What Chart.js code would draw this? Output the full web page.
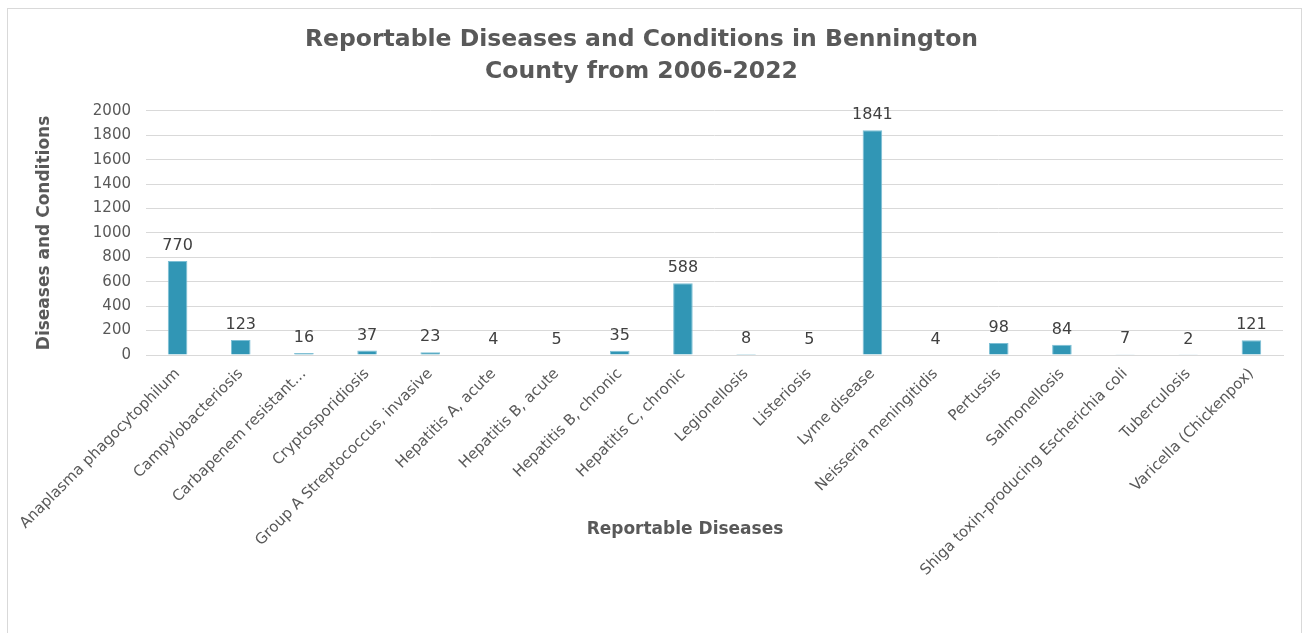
<!DOCTYPE html>
<html>
<head>
<meta charset="utf-8">
<script src="https://cdn.jsdelivr.net/npm/chart.js@4"></script>
<style>
  html, body { margin: 0; padding: 0; background: #fff; overflow: hidden; }
  #wrap { position: absolute; left: 0; top: 0; width: 1305px; height: 633px; }
  #frame { position: absolute; left: 7px; top: 8px; width: 1295px; height: 640px; border: 1px solid #d9d9d9; box-sizing: border-box; pointer-events: none; }
</style>
</head>
<body>
<div id="wrap"><canvas id="chart" width="1305" height="633"></canvas></div>
<div id="frame"></div>
<script>
// datos
const diseases = [
  'Anaplasma phagocytophilum', 'Campylobacteriosis', 'Carbapenem resistant…',
  'Cryptosporidiosis', 'Group A Streptococcus, invasive', 'Hepatitis A, acute',
  'Hepatitis B, acute', 'Hepatitis B, chronic', 'Hepatitis C, chronic',
  'Legionellosis', 'Listeriosis', 'Lyme disease', 'Neisseria meningitidis',
  'Pertussis', 'Salmonellosis', 'Shiga toxin-producing Escherichia coli',
  'Tuberculosis', 'Varicella (Chickenpox)'
];
const counts = [770, 123, 16, 37, 23, 4, 5, 35, 588, 8, 5, 1841, 4, 98, 84, 7, 2, 121];
const titleLines = ['Reportable Diseases and Conditions in Bennington', 'County from 2006-2022'];
const xTitle = 'Reportable Diseases';
const yTitle = 'Diseases and Conditions';

const GREY = '#595959';

// etiquetas de valor encima de cada barra
const valueLabels = {
  id: 'valueLabels',
  afterDatasetsDraw(chart) {
    const ctx = chart.ctx;
    const meta = chart.getDatasetMeta(0);
    ctx.save();
    ctx.font = '16px "DejaVu Sans"';
    ctx.fillStyle = '#404040';
    ctx.textAlign = 'center';
    ctx.textBaseline = 'bottom';
    meta.data.forEach((bar, i) => {
      ctx.fillText(String(counts[i]), bar.x, bar.y - 7);
    });
    ctx.restore();
  }
};

// título del eje X (Excel lo pone entre las etiquetas giradas)
const xAxisTitle = {
  id: 'xAxisTitle',
  afterDraw(chart) {
    const ctx = chart.ctx;
    ctx.save();
    ctx.font = 'bold 17px "DejaVu Sans"';
    ctx.fillStyle = GREY;
    ctx.textAlign = 'center';
    ctx.textBaseline = 'middle';
    ctx.fillText(xTitle, 685, chart.chartArea.bottom + 175);
    ctx.restore();
  }
};

new Chart(document.getElementById('chart'), {
  type: 'bar',
  data: {
    labels: diseases,
    datasets: [{
      data: counts,
      backgroundColor: '#3196b5',
      borderColor: '#7dbfd5',
      borderWidth: 1,
      barPercentage: 0.31,
      categoryPercentage: 1
    }]
  },
  options: {
    responsive: false,
    animation: false,
    layout: { padding: { left: 0, right: 22, top: 0, bottom: 0 } },
    plugins: {
      legend: { display: false },
      tooltip: { enabled: false },
      title: {
        display: true,
        text: titleLines,
        color: GREY,
        font: { family: '"DejaVu Sans"', size: 23.5, weight: 'bold', lineHeight: 1.36 },
        padding: { top: 24, bottom: 23 }
      }
    },
    scales: {
      x: {
        grid: { display: false, drawTicks: false },
        border: { display: true, color: '#d9d9d9', width: 1 },
        ticks: {
          autoSkip: false,
          maxRotation: 45,
          minRotation: 45,
          padding: 10,
          color: GREY,
          font: { family: '"DejaVu Sans"', size: 15 }
        },
        afterFit(scale) { scale.height = 278; }
      },
      y: {
        min: 0,
        max: 2000,
        ticks: {
          stepSize: 200,
          padding: 15,
          color: GREY,
          font: { family: '"DejaVu Sans"', size: 15 },
          callback: (v) => String(v)
        },
        grid: { color: '#d9d9d9', drawTicks: false },
        border: { display: false },
        title: {
          display: true,
          text: yTitle,
          color: GREY,
          font: { family: '"DejaVu Sans"', size: 17, weight: 'bold' },
          padding: { top: 34 }
        },
        afterFit(scale) { scale.width = 146; }
      }
    }
  },
  plugins: [valueLabels, xAxisTitle]
});
</script>
</body>
</html>
